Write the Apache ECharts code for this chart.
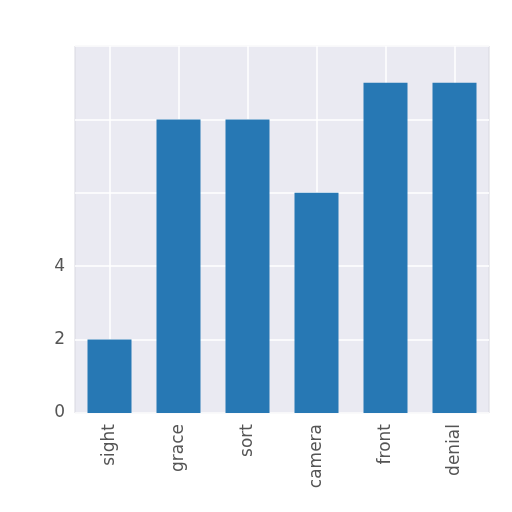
<!DOCTYPE html>
<html>
<head>
<meta charset="utf-8">
<script src="https://cdn.jsdelivr.net/npm/echarts@6/dist/echarts.min.js"></script>
<style>
html, body { margin: 0; padding: 0; background: #fff; }
#bar-chart { width: 512px; height: 512px; }
</style>
</head>
<body>
<div id="bar-chart"></div>
<script>
// 类别与数值
var categories = ['sight', 'grace', 'sort', 'camera', 'front', 'denial'];
var counts = [2, 8, 8, 6, 9, 9];
var yShown = ['0', '2', '4']; // only these labels are readable in the picture

var chart = echarts.init(document.getElementById('bar-chart'));
var option = {
    animation: false,
    grid: {
        left: 75, right: 23, top: 46, bottom: 99,
        show: true,
        backgroundColor: '#eaeaf2',
        borderColor: '#d8d8e0',
        borderWidth: 1
    },
    xAxis: {
        type: 'category',
        data: categories,
        axisLine: {show: false},
        axisTick: {show: false},
        axisLabel: {
            rotate: 90,
            margin: 11,
            color: '#555',
            fontSize: 17,
            fontFamily: 'DejaVu Sans'
        },
        splitLine: {show: true, alignWithLabel: true, lineStyle: {color: '#fff', width: 1.5}}
    },
    yAxis: {
        type: 'value',
        min: 0,
        max: 10,
        interval: 2,
        axisLine: {show: false},
        axisTick: {show: false},
        axisLabel: {
            color: '#555',
            fontSize: 17,
            margin: 10,
            fontFamily: 'DejaVu Sans',
            formatter: function (v) {
                return yShown.indexOf(String(v)) >= 0 ? String(v) : '';
            }
        },
        splitLine: {lineStyle: {color: '#fff', width: 1.5}}
    },
    series: [{
        type: 'bar',
        data: counts,
        barWidth: 44,
        itemStyle: {color: '#2778b4'}
    }]
};
chart.setOption(option);
</script>
</body>
</html>
